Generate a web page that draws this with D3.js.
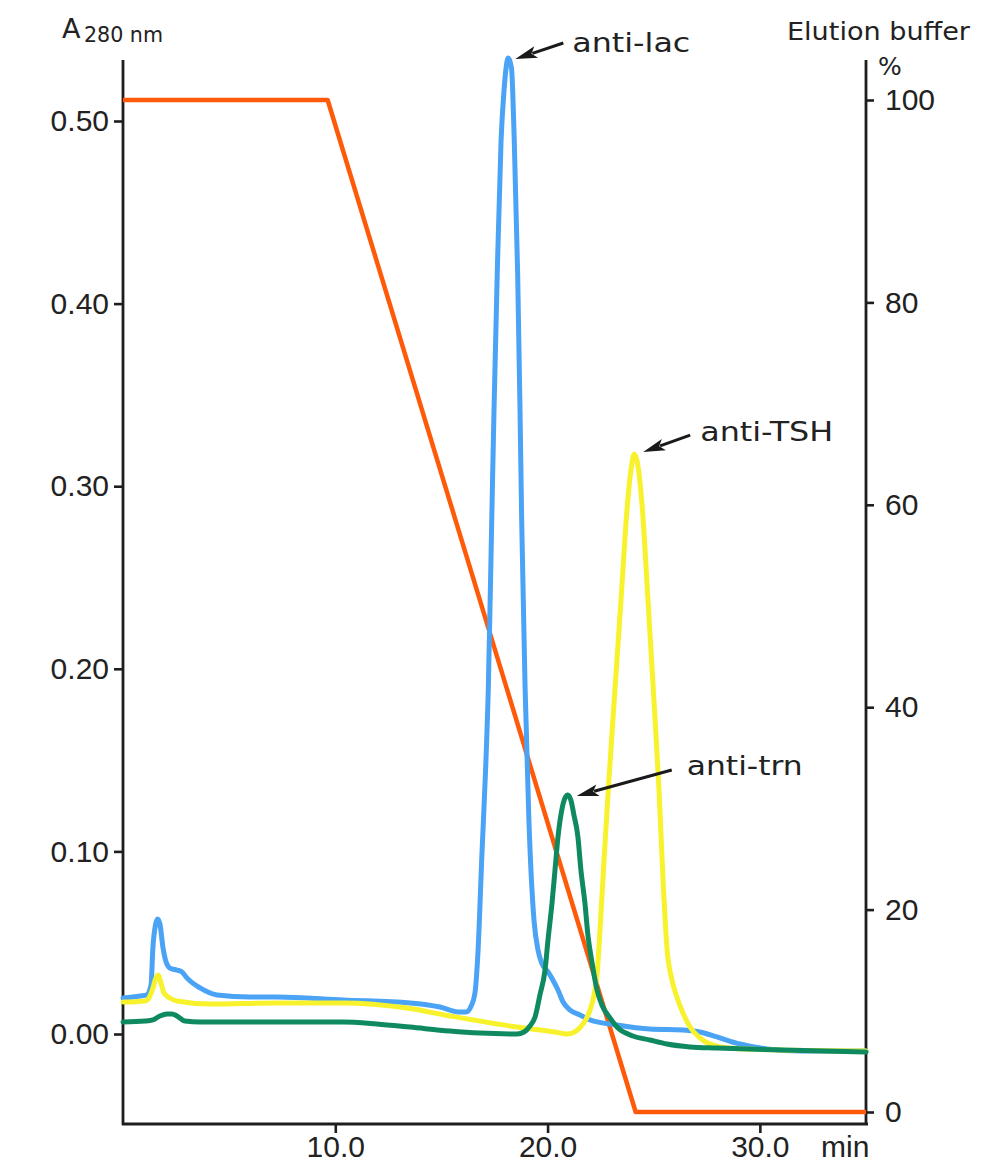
<!DOCTYPE html>
<html><head><meta charset="utf-8">
<script src="https://cdn.jsdelivr.net/npm/d3@7"></script>
<style>body{margin:0;background:#fff} svg{display:block}</style>
</head><body>
<svg id="c" width="989" height="1164"></svg>
<script>
// ---- data ----
const leftTicks = [0, 0.1, 0.2, 0.3, 0.4, 0.5];
const rightTicks = [0, 20, 40, 60, 80, 100];
const xTicks = [10, 20, 30];
const gradientT = [0, 9.64, 24.15, 35];
const gradientV = [100, 100, 0, 0];
const antiLac = [
 [0,0.0197],[0.8,0.0208],[1.13,0.0214],[1.32,0.0268],[1.41,0.0476],[1.53,0.0597],[1.63,0.063],[1.74,0.0602],
 [1.88,0.0476],[2.03,0.0394],[2.21,0.0361],[2.54,0.035],[2.78,0.034],[3.01,0.0307],[3.63,0.0252],[4.43,0.0214],
 [5.98,0.0203],[7.25,0.0203],[10.36,0.0186],[13.52,0.017],[14.93,0.0148],[15.87,0.012],[16.16,0.012],[16.4,0.0153],
 [16.58,0.0225],[16.72,0.0444],[16.91,0.0991],[17.08,0.1446],[17.21,0.19],[17.37,0.2815],[17.48,0.3434],[17.63,0.4168],
 [17.81,0.4896],[17.95,0.517],[18.15,0.5345],[18.3,0.529],[18.43,0.4896],[18.59,0.4168],[18.7,0.3434],[18.78,0.2815],
 [18.94,0.19],[19.12,0.1172],[19.36,0.0624],[19.55,0.046],[19.72,0.0389],[20.02,0.034],[20.25,0.0296],[20.49,0.0241],
 [20.73,0.0175],[21.06,0.0131],[21.53,0.0104],[22.0,0.0077],[23.27,0.0049],[24.82,0.0027],[26.38,0.0022],[27.18,0.0011],
 [27.98,-0.0016],[29.06,-0.0055],[30.33,-0.0082],[31.89,-0.0093],[35,-0.0093]
];
const antiTSH = [
 [0,0.0175],[1.04,0.0181],[1.27,0.0208],[1.41,0.0252],[1.55,0.0307],[1.67,0.0323],[1.79,0.0279],[1.93,0.0225],
 [2.21,0.0197],[2.54,0.0181],[4.1,0.0164],[7.25,0.017],[10.36,0.017],[13.38,0.0142],[15.4,0.0099],[18.56,0.0038],
 [20.35,0.0011],[20.91,0],[21.34,0.0016],[21.67,0.0055],[22.0,0.0131],[22.19,0.0214],[22.33,0.0323],[22.47,0.057],
 [22.66,0.0953],[22.89,0.139],[23.17,0.188],[23.46,0.2377],[23.74,0.287],[23.93,0.309],[24.08,0.3176],[24.23,0.313],
 [24.45,0.29],[24.73,0.2377],[25.01,0.183],[25.25,0.1336],[25.44,0.0843],[25.62,0.0476],[25.86,0.0296],[26.09,0.0203],
 [26.42,0.0104],[26.71,0.0038],[27.18,-0.0022],[27.65,-0.0055],[28.59,-0.0077],[30.95,-0.0088],[35,-0.0093]
];
const antiTrn = [
 [0,0.0066],[1.04,0.0071],[1.41,0.0077],[1.74,0.0099],[2.07,0.011],[2.31,0.011],[2.54,0.0099],[2.92,0.0071],
 [3.63,0.0066],[10.36,0.0066],[11.96,0.0055],[13.52,0.0038],[15.4,0.0016],[16.82,0.0005],[18.56,0],[18.89,0.0011],
 [19.17,0.0044],[19.41,0.0093],[19.64,0.0214],[19.88,0.035],[20.02,0.0515],[20.21,0.0717],[20.35,0.0898],[20.49,0.1079],
 [20.67,0.1227],[20.82,0.1292],[20.95,0.1309],[21.1,0.128],[21.24,0.12],[21.43,0.1079],[21.57,0.0898],[21.76,0.0717],
 [21.9,0.0542],[22.09,0.0394],[22.33,0.0241],[22.56,0.0159],[22.94,0.0088],[23.27,0.0038],[24.02,-0.0011],[24.82,-0.0033],
 [25.62,-0.0055],[26.71,-0.0071],[27.98,-0.0077],[31.09,-0.0088],[35,-0.0099]
];
const peakLabels = ["anti-lac", "anti-TSH", "anti-trn"];

// ---- layout ----
const svg = d3.select("#c");
const x = d3.scaleLinear().domain([0, 35]).range([123, 866]);
const yL = d3.scaleLinear().domain([0, 0.5]).range([1034, 121]);
const yR = d3.scaleLinear().domain([0, 100]).range([1112, 100]);
const axisColor = "#1e1e1e";
const tickFont = "'Liberation Sans', Arial, sans-serif";
const labelFont = "'DejaVu Sans', sans-serif";

function styleAxis(g) {
  g.select(".domain").remove();
  g.selectAll(".tick line").attr("stroke", axisColor).attr("stroke-width", 2.6);
  g.selectAll(".tick text").attr("fill", "#222").style("font-family", tickFont).style("font-size", "30px");
}

svg.append("g").attr("transform", "translate(123,0)")
  .call(d3.axisLeft(yL).tickValues(leftTicks).tickFormat(d3.format(".2f")).tickSize(9).tickPadding(5))
  .call(styleAxis);
svg.append("g").attr("transform", "translate(866,0)")
  .call(d3.axisRight(yR).tickValues(rightTicks).tickFormat(d3.format("d")).tickSize(8).tickPadding(11))
  .call(styleAxis);
svg.append("g").attr("transform", "translate(0,1124)")
  .call(d3.axisBottom(x).tickValues(xTicks).tickFormat(d3.format(".1f")).tickSize(9).tickPadding(3))
  .call(styleAxis);

// axis lines
const axLines = [[123, 60, 123, 1125], [866, 60, 866, 1125], [122, 1124, 868, 1124]];
svg.selectAll("line.ax").data(axLines).enter().append("line")
  .attr("x1", d => d[0]).attr("y1", d => d[1]).attr("x2", d => d[2]).attr("y2", d => d[3])
  .attr("stroke", axisColor).attr("stroke-width", 2.8);

// gradient line
const gradData = gradientT.map((t, i) => [t, gradientV[i]]);
svg.append("path").datum(gradData)
  .attr("d", d3.line().x(d => x(d[0])).y(d => yR(d[1])))
  .attr("fill", "none").attr("stroke", "#ff5a0a").attr("stroke-width", 4.5).attr("stroke-linejoin", "round");

// absorbance curves
const series = [
  {data: antiLac, color: "#4aa3f5"},
  {data: antiTSH, color: "#f7f22c"},
  {data: antiTrn, color: "#0f8a60"}
];
const line = d3.line().x(d => x(d[0])).y(d => yL(d[1])).curve(d3.curveMonotoneX);
series.forEach(s => {
  svg.append("path").datum(s.data).attr("d", line)
    .attr("fill", "none").attr("stroke", s.color).attr("stroke-width", 5)
    .attr("stroke-linejoin", "round").attr("stroke-linecap", "round");
});

// annotations (offsets relative to each peak)
const annOffsets = [
  {tip: [7, 1], tail: [55, -15], text: [64, -6], len: 118},
  {tip: [9, -2], tail: [56, -19], text: [66, -13], len: 133},
  {tip: [9, 1], tail: [104, -25], text: [119, -20], len: 116}
];
series.forEach((s, i) => {
  const pk = s.data.reduce((a, b) => b[1] > a[1] ? b : a);
  const px = x(pk[0]), py = yL(pk[1]);
  const o = annOffsets[i];
  const tx = px + o.tip[0], ty = py + o.tip[1];
  const sx = px + o.tail[0], sy = py + o.tail[1];
  const dx = tx - sx, dy = ty - sy, L = Math.hypot(dx, dy);
  const ux = dx / L, uy = dy / L;
  const hl = 22, hw = 6;
  const bx = tx - ux * hl, by = ty - uy * hl;
  svg.append("line").attr("x1", sx).attr("y1", sy).attr("x2", bx + ux * 4).attr("y2", by + uy * 4)
    .attr("stroke", "#1a1a1a").attr("stroke-width", 3);
  svg.append("path")
    .attr("d", `M${tx},${ty}L${bx - uy * hw},${by + ux * hw}L${bx + ux * 5},${by + uy * 5}L${bx + uy * hw},${by - ux * hw}Z`)
    .attr("fill", "#1a1a1a");
  svg.append("text").attr("x", px + o.text[0]).attr("y", py + o.text[1])
    .attr("textLength", o.len).attr("lengthAdjust", "spacingAndGlyphs")
    .style("font-family", labelFont).style("font-size", "27px").attr("fill", "#222")
    .text(peakLabels[i]);
});

// axis titles
svg.append("text").attr("x", 62).attr("y", 38).style("font-family", labelFont).style("font-size", "27px")
  .attr("fill", "#222").text("A");
svg.append("text").attr("x", 84).attr("y", 42).style("font-family", labelFont).style("font-size", "20.5px")
  .attr("fill", "#222").attr("textLength", 79).attr("lengthAdjust", "spacingAndGlyphs").text("280 nm");
svg.append("text").attr("x", 787).attr("y", 40).style("font-family", labelFont).style("font-size", "25px")
  .attr("fill", "#222").attr("textLength", 183).attr("lengthAdjust", "spacingAndGlyphs").text("Elution buffer");
svg.append("text").attr("x", 878).attr("y", 75).style("font-family", labelFont).style("font-size", "25px")
  .attr("fill", "#222").text("%");
svg.append("text").attr("x", 821).attr("y", 1157).style("font-family", tickFont).style("font-size", "30px")
  .attr("fill", "#222").text("min");
</script>
</body></html>
